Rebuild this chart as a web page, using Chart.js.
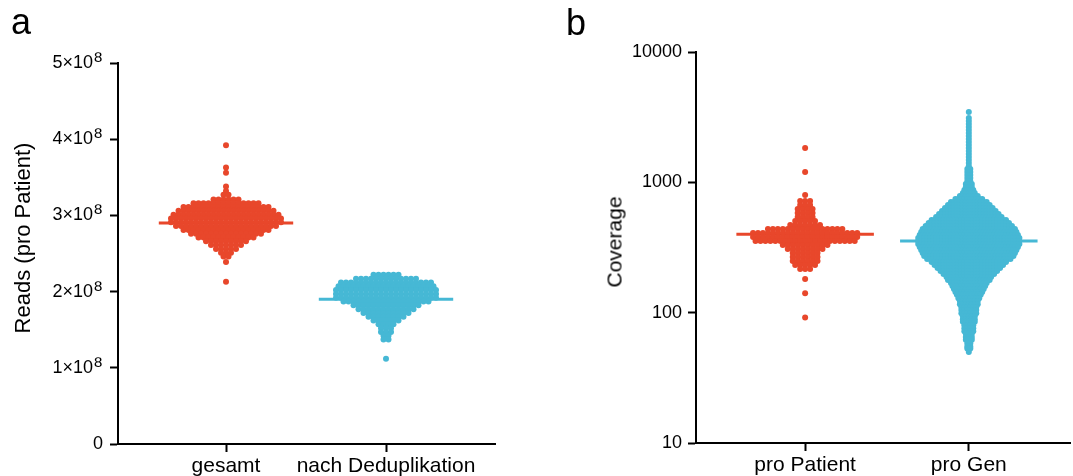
<!DOCTYPE html>
<html>
<head>
<meta charset="utf-8">
<script src="https://cdn.jsdelivr.net/npm/chart.js@4.4.1/dist/chart.umd.min.js"></script>
<style>
  @font-face {
    font-family: "SupSans";
    src: local("Liberation Sans"), local("LiberationSans"), local("Arial");
    unicode-range: U+2070-209F;
    size-adjust: 135%;
  }
  html, body { margin: 0; padding: 0; background: #fff; }
  #wrap { position: relative; width: 1073px; height: 476px; overflow: hidden; font-family: "Liberation Sans", Arial, sans-serif; color: #000; }
  canvas { position: absolute; top: 0; }
  .lbl { position: absolute; white-space: nowrap; line-height: 1; }
  .ytitle { position: absolute; white-space: nowrap; line-height: 1; transform: translate(-50%, -50%) rotate(-90deg); }
</style>
</head>
<body>
<div id="wrap">
  <canvas id="chartA" width="540" height="476" style="left:0"></canvas>
  <canvas id="chartB" width="533" height="476" style="left:540px"></canvas>
  <div class="lbl" style="left:11px; top:4px; font-size:36px;">a</div>
  <div class="lbl" style="left:566px; top:5px; font-size:36px;">b</div>
  <div class="ytitle" style="left:23px; top:238px; font-size:22px;">Reads (pro Patient)</div>
  <div class="ytitle" style="left:614px; top:242px; font-size:21px;">Coverage</div>
</div>
<script>
// ---------------- data ----------------
// Panel a: reads per patient (value levels and number of patients at each level)
const categoriesA = ["gesamt", "nach Deduplikation"];
const yTicksA = [0, 1e8, 2e8, 3e8, 4e8, 5e8];
const gesamtReads  = [3.92e8,3.63e8,3.56e8,3.38e8,3.32e8,3.27e8,3.21e8,3.16e8,3.11e8,3.06e8,3.01e8,2.96e8,2.91e8,2.86e8,2.81e8,2.76e8,2.71e8,2.66e8,2.61e8,2.56e8,2.51e8,2.46e8,2.39e8,2.13e8];
const gesamtCounts = [1,1,1,1,1,2,6,14,18,20,22,23,23,21,18,15,12,9,7,5,3,2,1,1];
const dedupReads   = [2.22e8,2.17e8,2.12e8,2.07e8,2.02e8,1.97e8,1.92e8,1.87e8,1.82e8,1.77e8,1.72e8,1.67e8,1.62e8,1.57e8,1.52e8,1.47e8,1.42e8,1.37e8,1.12e8];
const dedupCounts  = [6,13,19,20,21,21,21,18,14,12,10,8,6,4,3,3,2,2,1];
const mediansA = [2.90e8, 1.90e8];

// Panel b: coverage (value levels and number of points at each level)
const categoriesB = ["pro Patient", "pro Gen"];
const yTicksB = [10, 100, 1000, 10000];
const patientCov    = [1833,1200,800,719,670,624,581,542,505,470,438,408,380,354,330,308,287,267,249,232,216,181,141,92];
const patientCounts = [1,1,1,3,3,4,4,4,5,7,16,22,22,21,10,8,6,6,6,5,3,1,1,1];
const genCov = [3464,3285,3116,2955,2802,2657,2520,2390,2266,2149,2038,1933,1833,1739,1649,1564,1483,1406,1334,1265,
                1200,1138,1079,1023,970,920,873,828,785,744,706,670,635,602,571,542,514,487,462,438,
                416,394,374,354,336,319,302,287,272,258,245,232,220,209,198,188,178,169,160,152,
                144,137,129,123,116,110,105,99,94,89,85,80,76,72,69,65,62,58,55,53,50];
const genCounts = [1,0,1,1,1,1,1,1,1,1,1,1,1,1,1,1,1,1,1,2,
                   2,2,2,2,3,3,4,5,7,10,13,15,17,19,21,23,26,28,30,32,
                   33,34,35,35,35,34,33,32,31,29,26,24,22,20,18,16,15,13,12,11,
                   10,9,8,7,7,6,6,6,5,5,5,4,4,4,3,3,3,2,2,2,1];
const mediansB = [400, 355];

// ---------------- styling / layout ----------------
const RED = "#E8472B";
const BLUE = "#46B8D5";
const TICKFONT = '"SupSans", "Liberation Sans", Arial, sans-serif';
Chart.defaults.font.family = '"Liberation Sans", Arial, sans-serif';
Chart.defaults.color = "#000";

// Swarm layout: spread the points of each value level side by side around the category centre
function swarm(center, values, counts, gapPx, pxPerUnit) {
  const pts = [];
  values.forEach((v, r) => {
    const n = counts[r];
    for (let i = 0; i < n; i++) {
      const off = (i - (n - 1) / 2) * gapPx;
      pts.push({ x: center + off / pxPerUnit, y: v });
    }
  });
  return pts;
}
function medianLine(center, value, halfUnits) {
  return [{ x: center - halfUnits, y: value }, { x: center + halfUnits, y: value }];
}
function axisCommon() {
  return {
    border: { display: true, color: "#000", width: 2 },
    grid: { drawOnChartArea: false, drawTicks: true, tickLength: 8, tickColor: "#000", tickWidth: 2 }
  };
}
function pointDs(data, color) {
  return { type: "scatter", data, backgroundColor: color, borderWidth: 0, pointRadius: 3, pointHoverRadius: 3, order: 1 };
}
function lineDs(data, color) {
  return { type: "line", data, borderColor: color, borderWidth: 3, pointRadius: 0, showLine: true, fill: false, order: 2 };
}

function draw() {
  // ---- Panel a ----
  const pxA = 160;  // pixels per category unit
  new Chart(document.getElementById("chartA"), {
    type: "scatter",
    data: {
      datasets: [
        pointDs(swarm(1, gesamtReads, gesamtCounts, 5, pxA), RED),
        pointDs(swarm(2, dedupReads, dedupCounts, 5, pxA), BLUE),
        lineDs(medianLine(1, mediansA[0], 0.42), RED),
        lineDs(medianLine(2, mediansA[1], 0.42), BLUE)
      ]
    },
    options: {
      responsive: false, animation: false,
      layout: { padding: { top: 63, right: 45, bottom: 0, left: 0 } },
      plugins: { legend: { display: false }, tooltip: { enabled: false } },
      scales: {
        x: Object.assign(axisCommon(), {
          type: "linear", min: 0.325, max: 0.325 + 377 / pxA,
          afterBuildTicks: s => { s.ticks = [{ value: 1 }, { value: 2 }]; },
          afterFit: s => { s.height = 32; },
          ticks: { autoSkip: false, maxRotation: 0, padding: 2, font: { size: 21 },
                   callback: v => categoriesA[Math.round(v) - 1] }
        }),
        y: Object.assign(axisCommon(), {
          type: "linear", min: yTicksA[0], max: yTicksA[yTicksA.length - 1],
          afterBuildTicks: s => { s.ticks = yTicksA.map(v => ({ value: v })); },
          afterFit: s => { s.width = 118; },
          ticks: { padding: 7, font: { size: 18, family: TICKFONT },
                   callback: v => v === 0 ? "0" : (v / 1e8) + "\u00D710\u2078" }
        })
      }
    }
  });

  // ---- Panel b ----
  const pxB = 165;
  new Chart(document.getElementById("chartB"), {
    type: "scatter",
    data: {
      datasets: [
        pointDs(swarm(1, patientCov, patientCounts, 5, pxB), RED),
        pointDs(swarm(2, genCov, genCounts, 3, pxB), BLUE),
        lineDs(medianLine(1, mediansB[0], 0.42), RED),
        lineDs(medianLine(2, mediansB[1], 0.42), BLUE)
      ]
    },
    options: {
      responsive: false, animation: false,
      layout: { padding: { top: 52, right: 0, bottom: 0, left: 0 } },
      plugins: { legend: { display: false }, tooltip: { enabled: false } },
      scales: {
        x: Object.assign(axisCommon(), {
          type: "linear", min: 1 - 110 / pxB, max: 1 - 110 / pxB + 377 / pxB,
          afterBuildTicks: s => { s.ticks = [{ value: 1 }, { value: 2 }]; },
          afterFit: s => { s.height = 33; },
          ticks: { autoSkip: false, maxRotation: 0, padding: 2, font: { size: 21 },
                   callback: v => categoriesB[Math.round(v) - 1] }
        }),
        y: Object.assign(axisCommon(), {
          type: "logarithmic", min: yTicksB[0], max: yTicksB[yTicksB.length - 1],
          afterBuildTicks: s => { s.ticks = yTicksB.map(v => ({ value: v })); },
          afterFit: s => { s.width = 156; },
          ticks: { padding: 6, font: { size: 18 }, callback: v => String(v) }
        })
      }
    }
  });
}

let drawn = false;
function drawOnce() { if (!drawn) { drawn = true; draw(); } }
if (document.fonts && document.fonts.load) {
  document.fonts.load('18px "SupSans"', '\u2078').then(drawOnce, drawOnce);
  setTimeout(drawOnce, 400);
} else {
  drawOnce();
}
</script>
</body>
</html>
